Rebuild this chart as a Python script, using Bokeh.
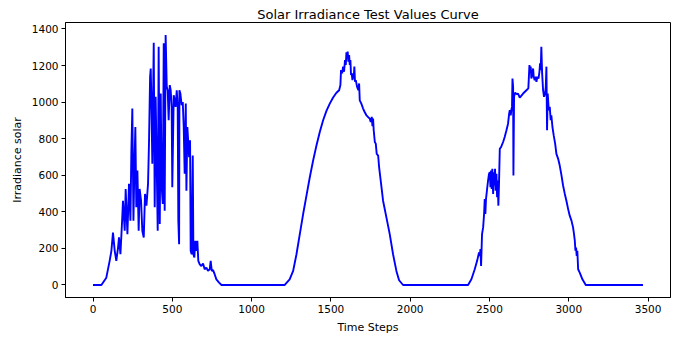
from bokeh.plotting import figure
from bokeh.models import Range1d
from bokeh.embed import file_html
from bokeh.resources import INLINE

# Day 1 (cloudy, spiky)
day1_steps = [0, 53, 84, 105, 116, 126, 137, 147, 158, 164, 173, 183, 189, 200, 206, 217, 227, 236, 242, 248,
              255, 261, 267, 273, 280, 288, 294, 303, 311, 320, 328, 337, 347, 353, 360, 364, 368, 374, 383, 389,
              395, 402, 408, 414, 421, 427, 433, 440, 446, 452, 458, 465, 471, 477, 484, 490, 496, 500, 509, 515,
              521, 528, 534, 538, 543, 545, 551, 559, 566, 572, 578, 585, 589, 595, 601, 606, 612, 616, 622, 629,
              633, 639, 645, 652, 658, 664, 673, 683, 694, 704, 715, 725, 736, 742, 749, 757, 767, 778, 795, 810]
day1_values = [0, 0, 40, 132, 187, 286, 187, 132, 205, 260, 168, 342, 461, 297, 525, 278, 553, 352, 736, 965,
               352, 644, 864, 425, 626, 297, 525, 461, 297, 260, 498, 434, 553, 773, 1139, 1184, 1020, 663, 1325, 425,
               1029, 644, 297, 1303, 333, 1047, 535, 443, 1322, 406, 1367, 1084, 1065, 901, 1093, 1065, 974, 535, 1038, 1010,
               974, 1065, 983, 352, 223, 1065, 1047, 983, 1001, 864, 608, 992, 516, 864, 773, 699, 791, 187, 168, 708,
               168, 150, 242, 187, 242, 132, 113, 104, 117, 86, 95, 77, 86, 132, 77, 81, 59, 31, 13, 0]

# Day 2 (mostly clear)
day2_steps = [1209, 1240, 1262, 1283, 1304, 1325, 1346, 1367, 1388, 1409, 1430, 1451, 1472, 1493, 1514, 1535,
              1552, 1560, 1564, 1571, 1577, 1583, 1589, 1594, 1598, 1602, 1606, 1610, 1615, 1619, 1623, 1627,
              1631, 1636, 1640, 1644, 1648, 1652, 1657, 1665, 1673, 1678, 1682, 1692, 1703, 1713, 1724, 1734,
              1745, 1751, 1758, 1762, 1766, 1770, 1777, 1783, 1789, 1798, 1804, 1819, 1829, 1850, 1871, 1892,
              1913, 1930, 1955]
day2_values = [0, 31, 77, 168, 278, 388, 489, 589, 681, 763, 837, 901, 952, 992, 1025, 1051,
               1065, 1093, 1175, 1157, 1194, 1166, 1230, 1203, 1272, 1239, 1276, 1221, 1258, 1203, 1230, 1148,
               1157, 1120, 1157, 1129, 1194, 1111, 1120, 1084, 1065, 1102, 1010, 992, 965, 946, 928, 919,
               910, 891, 919, 868, 910, 846, 782, 773, 717, 708, 644, 535, 461, 370, 278, 168,
               77, 26, 0]

# Day 3 (partly cloudy)
day3_steps = [2365, 2386, 2407, 2422, 2434, 2439, 2443, 2447, 2453, 2460, 2466, 2470, 2474, 2478, 2485, 2491,
              2497, 2502, 2506, 2510, 2514, 2518, 2523, 2527, 2531, 2535, 2539, 2544, 2548, 2552, 2556, 2560,
              2565, 2573, 2586, 2596, 2607, 2617, 2624, 2628, 2634, 2638, 2642, 2645, 2649, 2651, 2655, 2661,
              2674, 2680, 2691, 2712, 2733, 2745, 2752, 2756, 2760, 2764, 2771, 2775, 2779, 2785, 2792, 2796,
              2802, 2809, 2815, 2819, 2823, 2827, 2832, 2838, 2844, 2851, 2855, 2859, 2863, 2867, 2874, 2880,
              2886, 2890, 2897, 2905, 2914, 2922, 2933, 2943, 2954, 2964, 2975, 2985, 2996, 3006, 3017, 3027,
              3033, 3038, 3042, 3046, 3050, 3054, 3059, 3069, 3086, 3107, 3468]
day3_values = [0, 31, 86, 132, 178, 159, 196, 104, 278, 315, 388, 470, 388, 470, 525, 571,
               608, 617, 535, 626, 525, 635, 498, 617, 544, 635, 516, 608, 480, 571, 434, 553,
               745, 754, 782, 809, 846, 882, 937, 956, 928, 959, 974, 1129, 1084, 599, 1029, 1051,
               1043, 1047, 1025, 1047, 1065, 1075, 1203, 1175, 1194, 1129, 1157, 1184, 1139, 1120, 1139, 1111,
               1139, 1129, 1166, 1212, 1175, 1303, 1157, 1065, 1029, 1047, 1084, 1194, 846, 1047, 956, 974,
               901, 928, 864, 818, 773, 717, 690, 653, 599, 544, 498, 461, 415, 379, 352, 315,
               278, 242, 187, 205, 159, 187, 86, 68, 31, 0, 0]

time_steps = day1_steps + day2_steps + day3_steps
irradiance = day1_values + day2_values + day3_values

FONT = "DejaVu Sans"

p = figure(width=679, height=337, output_backend="svg", toolbar_location=None,
           title="Solar Irradiance Test Values Curve",
           x_range=Range1d(-173.4, 3641.4), y_range=Range1d(-68.4, 1435.4),
           min_border_left=65, min_border_right=9, min_border_bottom=40, min_border_top=22)

p.line(time_steps, irradiance, line_color="#0000ff", line_width=1.9)

p.title.align = "center"
p.title.text_font = FONT
p.title.text_font_size = "13px"
p.title.text_font_style = "normal"
p.title.text_color = "black"
p.title.standoff = 2
p.title.offset = 0

p.xgrid.grid_line_color = None
p.ygrid.grid_line_color = None
p.outline_line_color = "black"
p.outline_line_width = 1

p.xaxis.axis_label = "Time Steps"
p.yaxis.axis_label = "Irradiance solar"
p.xaxis.ticker = [0, 500, 1000, 1500, 2000, 2500, 3000, 3500]
p.yaxis.ticker = [0, 200, 400, 600, 800, 1000, 1200, 1400]
for ax in (p.xaxis[0], p.yaxis[0]):
    ax.axis_label_text_font = FONT
    ax.axis_label_text_font_size = "11px"
    ax.axis_label_text_font_style = "normal"
    ax.axis_label_text_color = "black"
    ax.major_label_text_font = FONT
    ax.major_label_text_font_size = "10.5px"
    ax.major_label_text_color = "black"
    ax.axis_line_color = "black"
    ax.major_tick_line_color = "black"
    ax.major_tick_out = 4
    ax.major_tick_in = 0
    ax.minor_tick_line_color = None
    ax.axis_label_standoff = 5
    ax.major_label_standoff = 3

open("out.html", "w").write(file_html(p, INLINE))
